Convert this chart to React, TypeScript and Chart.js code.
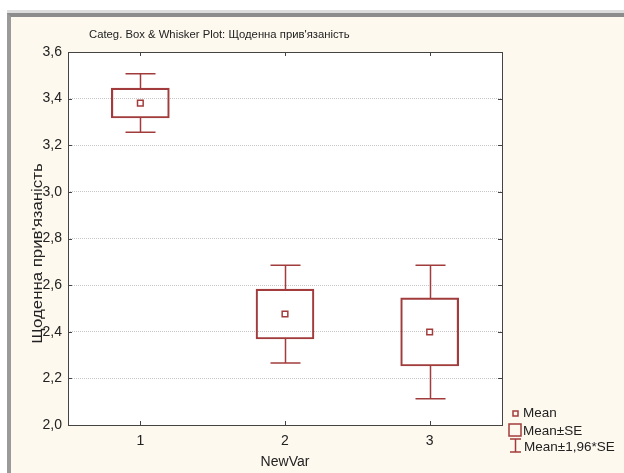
import React, { useEffect, useRef } from 'react';
import { Chart, registerables } from 'chart.js';

Chart.register(...registerables);

// ---- data ----
const categories = ['1', '2', '3'];
const means = [3.381, 2.476, 2.399];
const stdErrors = [0.064, 0.107, 0.146];
const seMultiplier = 1.96;
const yMin = 2.0;
const yMax = 3.6;
const yStep = 0.2;
const chartTitle = "Categ. Box & Whisker Plot: Щоденна прив'язаність";
const yTitle = "Щоденна прив'язаність";
const xTitle = 'NewVar';
const legendLabels = ['Mean', 'Mean±SE', 'Mean±1,96*SE'];

// ---- styles ----
const RED = '#a23c3c';
const TEXT = '#222';
const FONT = "'Liberation Sans', Arial, sans-serif";

const decor = {
  id: 'decor',
  beforeDraw(chart: any) {
    const { ctx, chartArea: a } = chart;
    ctx.save();
    ctx.fillStyle = '#ffffff';
    ctx.fillRect(a.left, a.top, a.right - a.left, a.bottom - a.top);
    ctx.restore();
  },
  afterDatasetsDraw(chart: any) {
    const { ctx } = chart;
    const xs = chart.scales.x;
    const ys = chart.scales.y;
    const capHalf = 15;
    ctx.save();
    ctx.strokeStyle = RED;
    ctx.lineWidth = 1.5;
    means.forEach((m, i) => {
      const px = Math.round(xs.getPixelForValue(i)) + 0.5;
      const se = stdErrors[i];
      const yHi = ys.getPixelForValue(m + se);
      const yTop = ys.getPixelForValue(m + seMultiplier * se);
      const yLo = ys.getPixelForValue(m - se);
      const yBot = ys.getPixelForValue(m - seMultiplier * se);
      ctx.beginPath();
      ctx.moveTo(px, yHi);
      ctx.lineTo(px, yTop);
      ctx.moveTo(px - capHalf, yTop);
      ctx.lineTo(px + capHalf, yTop);
      ctx.moveTo(px, yLo);
      ctx.lineTo(px, yBot);
      ctx.moveTo(px - capHalf, yBot);
      ctx.lineTo(px + capHalf, yBot);
      ctx.stroke();
    });
    ctx.restore();
  },
  afterDraw(chart: any) {
    const { ctx, chartArea: a } = chart;
    const xs = chart.scales.x;
    const ys = chart.scales.y;
    ctx.save();
    // frame
    ctx.strokeStyle = '#444';
    ctx.lineWidth = 1;
    ctx.strokeRect(Math.round(a.left) + 0.5, Math.round(a.top) + 0.5, Math.round(a.right - a.left), Math.round(a.bottom - a.top));
    // inward tick marks
    ctx.beginPath();
    ys.ticks.forEach((t: any) => {
      const py = Math.round(ys.getPixelForValue(t.value)) + 0.5;
      ctx.moveTo(a.left, py);
      ctx.lineTo(a.left + 4, py);
      ctx.moveTo(a.right - 4, py);
      ctx.lineTo(a.right, py);
    });
    xs.ticks.forEach((t: any, i: number) => {
      const px = Math.round(xs.getPixelForValue(i)) + 0.5;
      ctx.moveTo(px, a.bottom);
      ctx.lineTo(px, a.bottom - 4);
      ctx.moveTo(px, a.top);
      ctx.lineTo(px, a.top + 4);
    });
    ctx.stroke();

    // chart title
    ctx.fillStyle = TEXT;
    ctx.font = `11.3px ${FONT}`;
    ctx.textAlign = 'left';
    ctx.textBaseline = 'middle';
    ctx.fillText(chartTitle, 89, 35);

    // y title (slightly stretched along its length, like the original)
    ctx.save();
    ctx.translate(38, (a.top + a.bottom) / 2 + 15);
    ctx.rotate(-Math.PI / 2);
    ctx.scale(1.2, 1);
    ctx.textAlign = 'center';
    ctx.textBaseline = 'middle';
    ctx.font = `14px ${FONT}`;
    ctx.fillText(yTitle, 0, 0);
    ctx.restore();

    // legend
    const lx = a.right + 6;
    const ly = a.bottom - 13;
    ctx.strokeStyle = RED;
    ctx.lineWidth = 1.5;
    ctx.strokeRect(lx + 5, ly - 1, 5, 5);
    ctx.strokeRect(lx + 1, ly + 12, 12, 12);
    ctx.beginPath();
    ctx.moveTo(lx + 7.5, ly + 27);
    ctx.lineTo(lx + 7.5, ly + 40);
    ctx.moveTo(lx + 2, ly + 27);
    ctx.lineTo(lx + 13, ly + 27);
    ctx.moveTo(lx + 2, ly + 40);
    ctx.lineTo(lx + 13, ly + 40);
    ctx.stroke();
    ctx.fillStyle = TEXT;
    ctx.font = `13.5px ${FONT}`;
    ctx.textAlign = 'left';
    ctx.textBaseline = 'middle';
    ctx.fillText(legendLabels[0], lx + 15, ly + 1);
    ctx.fillText(legendLabels[1], lx + 15, ly + 19);
    ctx.fillText(legendLabels[2], lx + 16, ly + 35);
    ctx.restore();
  },
};

export default function App() {
  const ref = useRef<HTMLCanvasElement>(null);

  useEffect(() => {
    const chart = new Chart(ref.current as HTMLCanvasElement, {
      type: 'bar',
      data: {
        labels: categories,
        datasets: [
          {
            type: 'line',
            label: legendLabels[0],
            data: means,
            showLine: false,
            pointStyle: 'rect',
            pointRadius: 4,
            pointBorderWidth: 1.5,
            pointBorderColor: RED,
            pointBackgroundColor: '#ffffff',
            order: 0,
          } as any,
          {
            type: 'bar',
            label: legendLabels[1],
            data: means.map((m, i) => [m - stdErrors[i], m + stdErrors[i]]),
            backgroundColor: 'rgba(255,255,255,0)',
            borderColor: RED,
            borderWidth: 1.5,
            borderSkipped: false,
            barThickness: 58,
            order: 1,
          } as any,
        ],
      },
      options: {
        animation: false,
        responsive: false,
        devicePixelRatio: 1,
        layout: { padding: { left: 27, top: 52, right: 122, bottom: 0 } },
        plugins: {
          legend: { display: false },
          tooltip: { enabled: false },
          title: { display: false },
        },
        scales: {
          x: {
            offset: true,
            grid: { display: false, drawTicks: false },
            border: { display: false },
            ticks: { padding: 8, color: TEXT, font: { family: FONT, size: 14 } },
            title: {
              display: true,
              text: xTitle,
              color: TEXT,
              font: { family: FONT, size: 14 },
              padding: { top: 0, bottom: 2 },
            },
            afterFit: (s: any) => {
              s.height = 48;
            },
          },
          y: {
            min: yMin,
            max: yMax,
            ticks: {
              stepSize: yStep,
              padding: 6,
              color: TEXT,
              font: { family: FONT, size: 14 },
              callback: (v: any) => Number(v).toFixed(1).replace('.', ','),
            },
            grid: { color: '#c8c8c8', drawTicks: false },
            border: { display: false, dash: [1, 1] },
            afterFit: (s: any) => {
              s.width = 41;
            },
          },
        },
      } as any,
      plugins: [decor],
    });
    return () => chart.destroy();
  }, []);

  return (
    <div style={{ position: 'fixed', left: 0, top: 0, width: 624, height: 473, background: '#ffffff', overflow: 'hidden' }}>
      <div style={{ position: 'absolute', left: 7, top: 10, right: 0, bottom: 0, borderTop: '3px solid #dcdcdc' }}>
        <div
          style={{
            position: 'absolute',
            left: 0,
            top: 0,
            right: 0,
            bottom: 0,
            borderTop: '4px solid #8c8c8c',
            borderLeft: '4px solid #9a9a9a',
            background: '#fef9ef',
          }}
        />
      </div>
      <canvas ref={ref} width={624} height={473} style={{ position: 'absolute', left: 0, top: 0, width: 624, height: 473 }} />
    </div>
  );
}
